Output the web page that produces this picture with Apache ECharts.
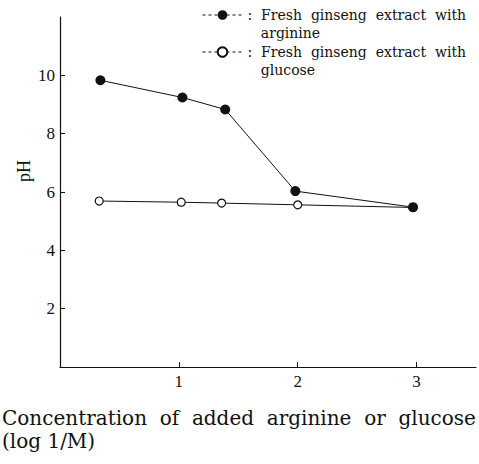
<!DOCTYPE html>
<html>
<head>
<meta charset="utf-8">
<script src="https://cdn.jsdelivr.net/npm/echarts@6/dist/echarts.min.js"></script>
<style>
  html, body { margin: 0; padding: 0; background: #fff; }
  #chart { width: 479px; height: 464px; }
</style>
</head>
<body>
<div id="chart"></div>
<script>
(function() {
  var ink = '#111';
  var serif = '"DejaVu Serif", serif';
  var times = '"Liberation Serif", serif';

  // log 1/M concentration values
  var argX = [0.34, 1.03, 1.39, 1.98, 2.97];
  var argPH = [9.83, 9.24, 8.83, 6.03, 5.48];
  var gluX = [0.33, 1.02, 1.36, 2.0, 2.97];
  var gluPH = [5.69, 5.65, 5.62, 5.56, 5.47];

  var xTicks = [1, 2, 3];
  var yTicks = [2, 4, 6, 8, 10];

  var seriesNames = ['arginine', 'glucose'];
  var xTitle = 'Concentration  of  added  arginine  or  glucose\n(log 1/M)';

  function pairs(xs, ys) {
    return xs.map(function(x, i) { return [x, ys[i]]; });
  }

  var chart = echarts.init(document.getElementById('chart'), null, { renderer: 'svg' });

  chart.setOption({
    backgroundColor: '#fff',
    animation: false,
    // x axis caption sits under the plot, flush left
    title: {
      text: xTitle,
      left: 2,
      top: 406,
      padding: 0,
      textStyle: {
        color: ink,
        fontFamily: serif,
        fontSize: 20,
        fontWeight: 'normal',
        lineHeight: 23
      }
    },
    grid: { left: 60, right: 3, top: 17, bottom: 97, containLabel: false, outerBoundsMode: 'none' },
    legend: {
      orient: 'vertical',
      left: 202,
      top: -12,
      padding: 0,
      itemWidth: 40,
      itemHeight: 12,
      itemGap: -17,
      data: seriesNames,
      // blank first line keeps the icon level with the first text line
      formatter: function(name) {
        return '\u00a0\n:  Fresh  ginseng  extract  with\n   ' + name;
      },
      lineStyle: { type: [3, 3], width: 1 },
      textStyle: {
        color: ink,
        fontFamily: serif,
        fontSize: 14,
        lineHeight: 18
      }
    },
    xAxis: {
      type: 'value',
      min: 0,
      max: 3.5,
      interval: 1,
      axisLine: { lineStyle: { color: ink, width: 1.2 } },
      axisTick: { inside: true, length: 5, customValues: xTicks, lineStyle: { color: ink } },
      axisLabel: { customValues: xTicks, margin: 6, color: ink, fontFamily: times, fontSize: 17 },
      splitLine: { show: false }
    },
    yAxis: {
      type: 'value',
      min: 0,
      max: 12,
      interval: 2,
      name: 'pH',
      nameLocation: 'middle',
      nameGap: 27,
      nameMoveOverlap: false,
      nameRotate: 90,
      nameTextStyle: {
        color: ink,
        fontFamily: times,
        fontSize: 18,
        padding: [0, 0, 0, 42]
      },
      axisLine: { lineStyle: { color: ink, width: 1.2 } },
      axisTick: { inside: true, length: 5, customValues: yTicks, lineStyle: { color: ink } },
      axisLabel: { customValues: yTicks, margin: 5, color: ink, fontFamily: times, fontSize: 17 },
      splitLine: { show: false }
    },
    series: [
      {
        name: 'glucose',
        type: 'line',
        data: pairs(gluX, gluPH),
        symbol: 'circle',
        symbolSize: 8,
        lineStyle: { color: ink, width: 1 },
        itemStyle: { color: '#fff', borderColor: ink, borderWidth: 1.2 },
        z: 2
      },
      {
        name: 'arginine',
        type: 'line',
        data: pairs(argX, argPH),
        symbol: 'circle',
        symbolSize: 10,
        lineStyle: { color: ink, width: 1 },
        itemStyle: { color: ink, borderColor: ink, borderWidth: 0 },
        z: 3
      }
    ]
  });

  window.addEventListener('resize', function() {
    chart.resize();
  });
})();
</script>
</body>
</html>
